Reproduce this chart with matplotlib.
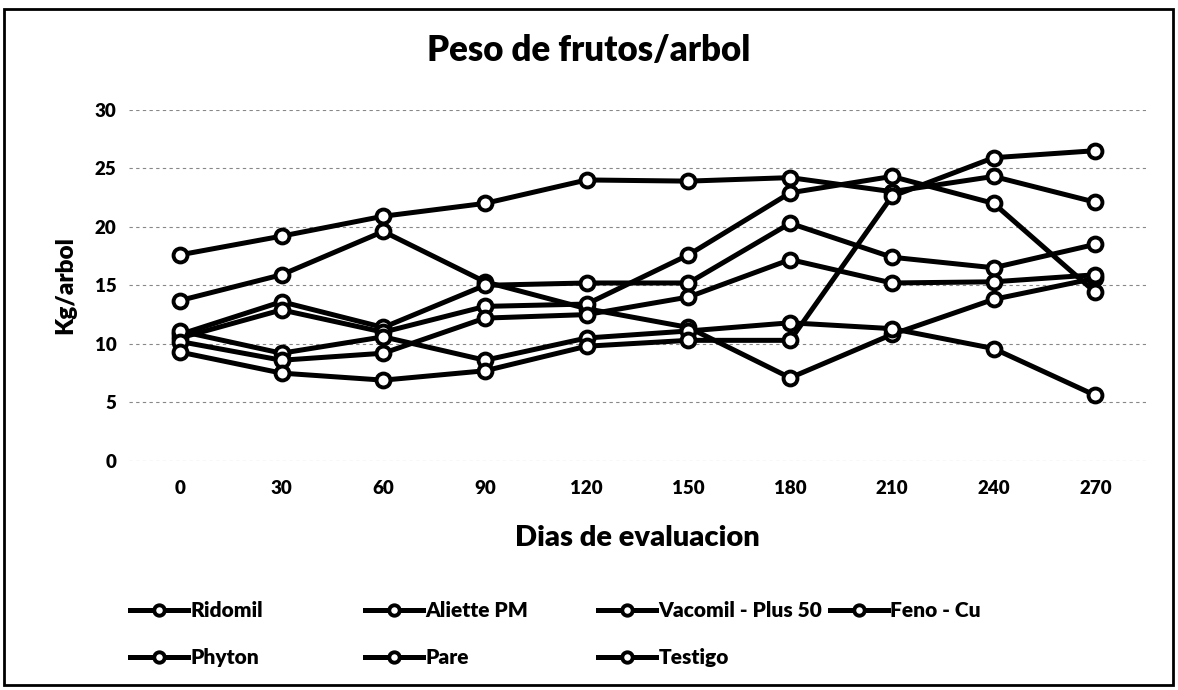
import matplotlib as mpl
mpl.use('Agg')
import matplotlib.pyplot as plt
from matplotlib.patches import Rectangle

plt.rcParams['font.family'] = ['Lato', 'DejaVu Sans']

# ── Data ─────────────────────────────────────────────────────────────────
dias = ['0', '30', '60', '90', '120', '150', '180', '210', '240', '270']

ridomil  = [17.6, 19.2, 20.9, 22.0, 24.0, 23.9, 24.2, 23.0, 24.3, 22.1]
aliette  = [13.7, 15.9, 19.6, 15.3, 13.0, 11.4, 7.1, 10.8, 13.8, 15.6]
vacomil  = [10.8, 13.6, 11.4, 15.0, 15.2, 15.2, 20.3, 17.4, 16.5, 18.5]
feno_cu  = [10.5, 12.9, 11.0, 13.2, 13.4, 17.6, 22.9, 24.3, 22.0, 14.4]
phyton   = [11.1, 9.2, 10.6, 8.6, 10.5, 11.1, 11.8, 11.3, 9.6, 5.6]
pare     = [10.2, 8.6, 9.2, 12.2, 12.5, 14.0, 17.2, 15.2, 15.3, 15.9]
testigo  = [9.3, 7.5, 6.9, 7.7, 9.8, 10.3, 10.3, 22.6, 25.9, 26.5]

series = [
    ('Ridomil', ridomil),
    ('Aliette PM', aliette),
    ('Vacomil - Plus 50', vacomil),
    ('Feno - Cu', feno_cu),
    ('Phyton', phyton),
    ('Pare', pare),
    ('Testigo', testigo),
]

W = 'heavy'

fig = plt.figure(figsize=(11.78, 6.9), dpi=100)
ax = fig.add_axes([0.1095, 0.332, 0.8635, 0.509])

handles = {}
for name, vals in series:
    h, = ax.plot(dias, vals, color='black', lw=3.6, marker='o', ms=10,
                 mfc='white', mec='black', mew=2.8, label=name)
    handles[name] = h

ax.set_ylim(0, 30)
ax.set_xlim(-0.5, len(dias) - 0.5)
ax.set_yticks(range(0, 31, 5))
ax.tick_params(axis='y', length=0, labelsize=13.5, pad=9)
ax.tick_params(axis='x', length=0, labelsize=13.5, pad=14)
for lab in ax.get_xticklabels() + ax.get_yticklabels():
    lab.set_fontweight(W)
ax.grid(axis='y', color='#888888', lw=0.8, ls=(0, (3, 3)))
ax.set_axisbelow(True)
for s in ax.spines.values():
    s.set_visible(False)

ax.set_xlabel('Dias de evaluacion', fontsize=21, fontweight=W, labelpad=20)
ax.set_ylabel('Kg/arbol', fontsize=17.5, fontweight=W, labelpad=13)
fig.text(0.5, 0.927, 'Peso de frutos/arbol', ha='center', va='center',
         fontsize=25, fontweight=W)

# legend: Excel-style equal-width columns, row-major
columns = [['Ridomil', 'Phyton'], ['Aliette PM', 'Pare'],
           ['Vacomil - Plus 50', 'Testigo'], ['Feno - Cu']]
col_x = [130, 365, 598, 830]
for names, x in zip(columns, col_x):
    leg = fig.legend([handles[n] for n in names], names, loc='upper left',
                     bbox_to_anchor=(x / 1178, 1 - 601 / 690),
                     frameon=False, fontsize=15, handlelength=2.8,
                     handletextpad=0.1, labelspacing=1.35, borderpad=0,
                     borderaxespad=0, markerscale=0.75)
    for t in leg.get_texts():
        t.set_fontweight(W)

# outer frame
fig.patches.append(Rectangle((0.003, 0.007), 0.993, 0.98, transform=fig.transFigure,
                             fill=False, ec='black', lw=2))

fig.savefig('out.png', dpi=100)
